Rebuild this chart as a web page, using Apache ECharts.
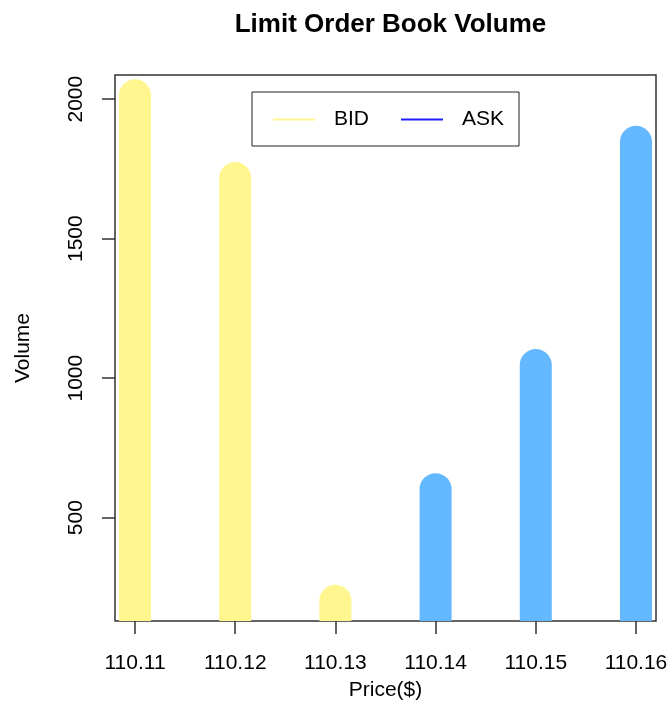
<!DOCTYPE html>
<html>
<head>
<meta charset="utf-8">
<script src="https://cdn.jsdelivr.net/npm/echarts@6/dist/echarts.min.js"></script>
<style>
html,body{margin:0;padding:0;background:#fff;}
#chart{width:671px;height:728px;}
</style>
</head>
<body>
<div id="chart"></div>
<script>
// Data
const bidPrices = [110.11, 110.12, 110.13];
const bidVolumes = [2014, 1717, 202];
const askPrices = [110.14, 110.15, 110.16];
const askVolumes = [602, 1047, 1847];
const priceTicks = [110.11, 110.12, 110.13, 110.14, 110.15, 110.16];
const volumeTicks = [500, 1000, 1500, 2000];

const allPrices = bidPrices.concat(askPrices);
const allVols = bidVolumes.concat(askVolumes);
// R-style 4% axis extension
function ext(arr) {
  const lo = Math.min.apply(null, arr), hi = Math.max.apply(null, arr);
  const r = hi - lo;
  return [lo - 0.04 * r, hi + 0.04 * r];
}
const xr = ext(allPrices);
const yr = ext(allVols);

const FONT = '"Liberation Sans", Arial, sans-serif';
const HALF = 16;

function renderBar(params, api) {
  const cs = params.coordSys;
  const p = api.coord([api.value(0), api.value(1)]);
  const bottom = cs.y + cs.height;
  const top = p[1] - HALF;
  return {
    type: 'rect',
    shape: { x: p[0] - HALF, y: top, width: HALF * 2, height: bottom - top, r: [HALF, HALF, 0, 0] },
    style: { fill: api.visual('color') }
  };
}

const chart = echarts.init(document.getElementById('chart'), null, { renderer: 'canvas' });
chart.setOption({
  animation: false,
  backgroundColor: '#fff',
  title: {
    text: 'Limit Order Book Volume',
    left: 385.5, textAlign: 'center', top: 7,
    textStyle: { fontFamily: FONT, fontSize: 26, fontWeight: 'bold', color: '#000' }
  },
  legend: {
    left: 252, top: 92,
    padding: [17, 15, 16, 21],
    borderColor: '#222', borderWidth: 1,
    itemWidth: 42, itemHeight: 2, itemGap: 32,
    textStyle: { fontFamily: FONT, fontSize: 21, color: '#000', padding: [0, 0, 0, 14] },
    data: [
      { name: 'BID', icon: 'rect', itemStyle: { color: '#FFF68F', borderWidth: 0 } },
      { name: 'ASK', icon: 'rect', itemStyle: { color: '#2020FF', borderWidth: 0 } }
    ]
  },
  grid: {
    left: 115, top: 75, right: 15, bottom: 107,
    show: true, borderColor: '#333', borderWidth: 1.5, backgroundColor: 'transparent'
  },
  xAxis: {
    type: 'value', min: xr[0], max: xr[1],
    name: 'Price($)', nameLocation: 'middle', nameGap: 59,
    nameTextStyle: { fontFamily: FONT, fontSize: 21, color: '#000' },
    axisLine: { show: false },
    splitLine: { show: false },
    axisTick: { show: true, inside: false, length: 13, customValues: priceTicks, lineStyle: { color: '#333', width: 1.5 } },
    axisLabel: { customValues: priceTicks, margin: 32, fontFamily: FONT, fontSize: 21, color: '#000',
      formatter: v => v.toFixed(2) }
  },
  yAxis: {
    type: 'value', min: yr[0], max: yr[1],
    name: 'Volume', nameLocation: 'middle', nameGap: 81,
    nameTextStyle: { fontFamily: FONT, fontSize: 21, color: '#000' },
    axisLine: { show: false },
    splitLine: { show: false },
    axisTick: { show: true, length: 13, customValues: volumeTicks, lineStyle: { color: '#333', width: 1.5 } },
    axisLabel: { customValues: volumeTicks, rotate: 90, margin: 28, fontFamily: FONT, fontSize: 21, color: '#000',
      formatter: v => String(Math.round(v)) }
  },
  series: [
    {
      name: 'BID', type: 'custom', renderItem: renderBar,
      itemStyle: { color: '#FFF68F' },
      encode: { x: 0, y: 1 },
      data: bidPrices.map((p, i) => [p, bidVolumes[i]])
    },
    {
      name: 'ASK', type: 'custom', renderItem: renderBar,
      itemStyle: { color: '#63B8FF' },
      encode: { x: 0, y: 1 },
      data: askPrices.map((p, i) => [p, askVolumes[i]])
    }
  ]
});
</script>
</body>
</html>
